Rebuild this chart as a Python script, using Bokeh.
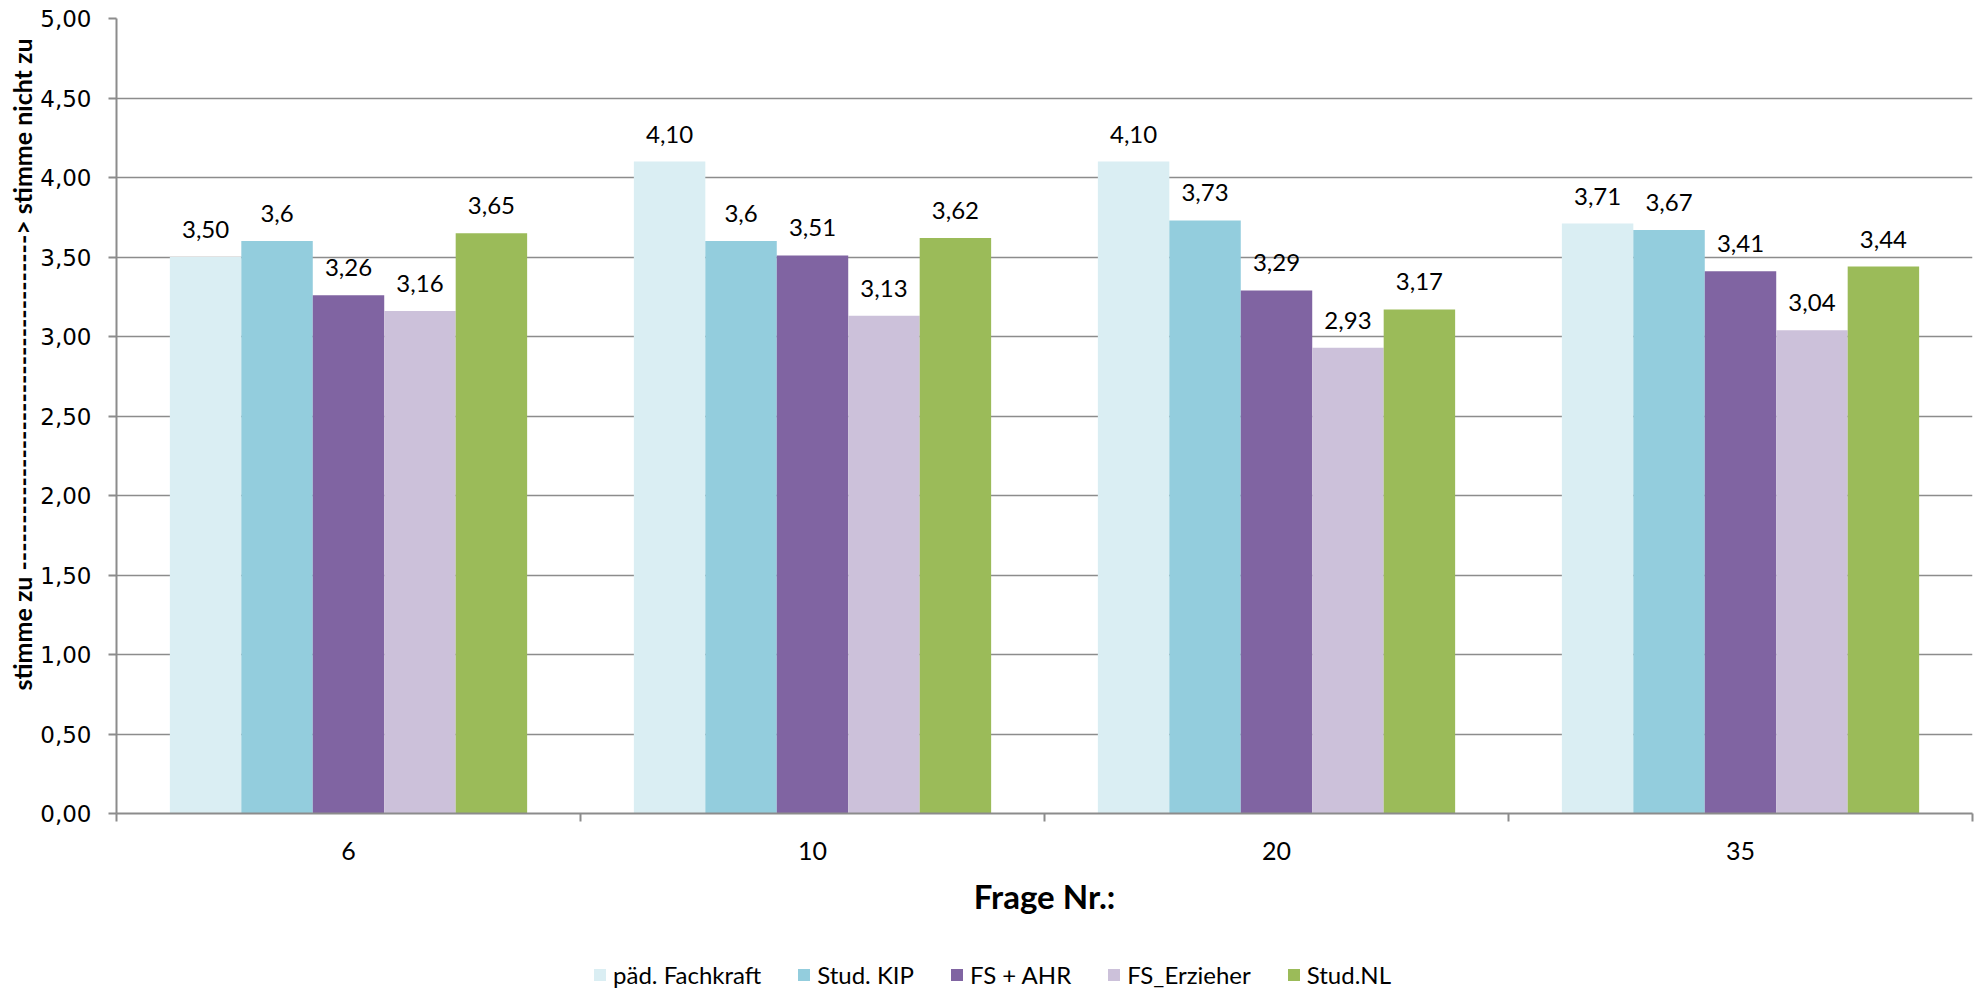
from bokeh.plotting import figure
from bokeh.models import (Range1d, FixedTicker, CustomJSTickFormatter, ColumnDataSource,
                          LabelSet, Legend, LegendItem, Title)
from bokeh.layouts import column
from bokeh.core.properties import value
from bokeh.embed import file_html
from bokeh.resources import INLINE

# Question numbers on the x axis
questions = ["6", "10", "20", "35"]

# Mean ratings per group, as printed on the bars
series_names = ["päd. Fachkraft", "Stud. KIP", "FS + AHR", "FS_Erzieher", "Stud.NL"]
paed_fachkraft = ["3,50", "4,10", "4,10", "3,71"]
stud_kip = ["3,6", "3,6", "3,73", "3,67"]
fs_ahr = ["3,26", "3,51", "3,29", "3,41"]
fs_erzieher = ["3,16", "3,13", "2,93", "3,04"]
stud_nl = ["3,65", "3,62", "3,17", "3,44"]

series_labels = [paed_fachkraft, stud_kip, fs_ahr, fs_erzieher, stud_nl]
colors = ["#DAEEF3", "#93CDDD", "#8064A2", "#CCC1DA", "#9BBB59"]

y_ticks = [0, 0.5, 1, 1.5, 2, 2.5, 3, 3.5, 4, 4.5, 5]
y_title = "stimme zu  " + "-" * 36 + "> stimme nicht zu"

CAL = "Lato"
GRID = "#8c8c8c"
W = 1982
MAIN_H = 930
LEG_H = 59
FRAME_LEFT = 116

p = figure(width=W, height=MAIN_H, output_backend="svg", toolbar_location=None,
           x_range=Range1d(0, len(questions)), y_range=Range1d(0, 5),
           min_border_left=FRAME_LEFT, min_border_right=10, min_border_top=18,
           min_border_bottom=MAIN_H - 813)
p.outline_line_color = None
p.background_fill_color = "white"
p.border_fill_color = "white"

bar_w = 0.154
n = len(series_names)
for j, (name, labs, col) in enumerate(zip(series_names, series_labels, colors)):
    vals = [float(s.replace(",", ".")) for s in labs]
    xs = [i + 0.5 + (j - (n - 1) / 2) * bar_w for i in range(len(questions))]
    src = ColumnDataSource(dict(x=xs, top=vals, label=labs))
    p.vbar(x="x", top="top", width=bar_w, bottom=0, source=src,
           fill_color=col, line_color=None)
    p.add_layout(LabelSet(x="x", y="top", text="label", source=src,
                          text_align="center", text_baseline="alphabetic",
                          y_offset=19, text_font=value(CAL), text_font_size="24px",
                          text_color="#000000"))

# y axis
p.yaxis.ticker = FixedTicker(ticks=y_ticks)
p.yaxis.formatter = CustomJSTickFormatter(code="return tick.toFixed(2).replace('.', ',');")
p.yaxis.major_label_text_font = "DejaVu Sans"
p.yaxis.major_label_text_font_size = "23px"
p.yaxis.major_label_text_color = "#000000"
p.yaxis.major_label_standoff = 17
p.yaxis.major_tick_out = 8
p.yaxis.major_tick_in = 0
p.yaxis.minor_tick_line_color = None
p.yaxis.axis_line_color = GRID
p.yaxis.axis_line_width = 2
p.yaxis.major_tick_line_color = GRID
p.yaxis.major_tick_line_width = 2

# vertical axis title, starting a little above the bottom of the frame
p.add_layout(Title(text=y_title, align="left", offset=123, standoff=2,
                   text_font=CAL, text_font_style="bold", text_font_size="25px",
                   text_color="#000000"), "left")

p.ygrid.ticker = FixedTicker(ticks=y_ticks)
p.ygrid.grid_line_color = GRID
p.ygrid.grid_line_width = 1.5
p.xgrid.grid_line_color = None

# x axis: labels at category centres, tick marks at category borders
p.xaxis.ticker = FixedTicker(ticks=[i + 0.5 for i in range(len(questions))],
                             minor_ticks=list(range(len(questions) + 1)))
p.xaxis.formatter = CustomJSTickFormatter(args=dict(labels=questions),
                                          code="return labels[Math.floor(tick)];")
p.xaxis.major_tick_out = 0
p.xaxis.major_tick_in = 0
p.xaxis.minor_tick_out = 8
p.xaxis.minor_tick_in = 0
p.xaxis.minor_tick_line_color = GRID
p.xaxis.minor_tick_line_width = 2
p.xaxis.axis_line_color = GRID
p.xaxis.axis_line_width = 2
p.xaxis.major_label_standoff = 20
p.xaxis.major_label_text_font = CAL
p.xaxis.major_label_text_font_size = "25px"
p.xaxis.major_label_text_color = "#000000"
p.xaxis.axis_label = "Frage Nr.:"
p.xaxis.axis_label_text_font = CAL
p.xaxis.axis_label_text_font_style = "bold"
p.xaxis.axis_label_text_font_size = "33px"
p.xaxis.axis_label_text_color = "#000000"
p.xaxis.axis_label_standoff = 13

# legend strip underneath the chart
lf = figure(width=W, height=LEG_H, output_backend="svg", toolbar_location=None,
            x_axis_location=None, y_axis_location=None,
            x_range=Range1d(0, 1), y_range=Range1d(0, 1),
            min_border_left=0, min_border_right=0, min_border_top=0, min_border_bottom=0)
lf.outline_line_color = None
lf.grid.visible = False
lf.background_fill_color = "white"
lf.border_fill_color = "white"
legend_items = []
for name, col in zip(series_names, colors):
    r = lf.vbar(x=[0.5], top=[0], bottom=[0], width=0.1, fill_color=col, line_color=None)
    legend_items.append(LegendItem(label=name, renderers=[r]))
legend = Legend(items=legend_items, orientation="horizontal",
                location=(592 - FRAME_LEFT, 0),
                label_text_font=CAL, label_text_font_size="24px",
                label_text_color="#000000", glyph_width=15, glyph_height=15,
                label_standoff=6, spacing=35, padding=0, margin=0,
                border_line_color=None, background_fill_alpha=0)
lf.add_layout(legend, "center")

open("out.html", "w").write(file_html(column(p, lf, spacing=0), INLINE))
